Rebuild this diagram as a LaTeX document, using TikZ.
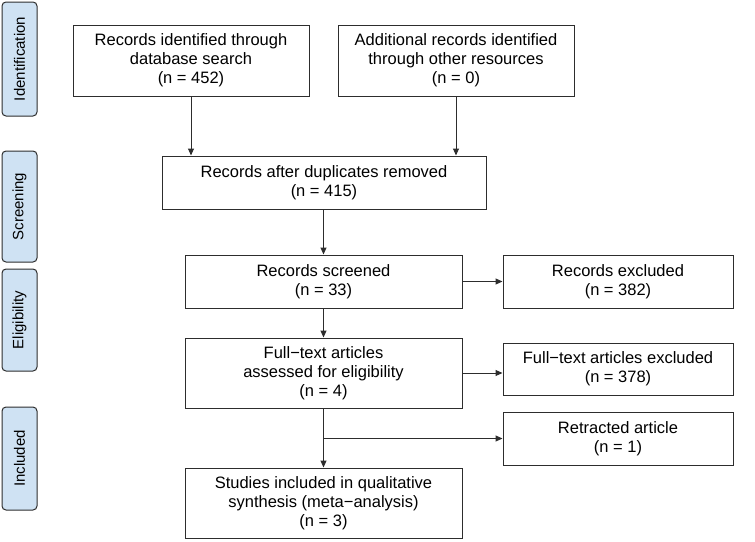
\documentclass[tikz,border=0pt]{standalone}
\usepackage{fontspec}
\setmainfont{Liberation Sans}
\usetikzlibrary{arrows.meta}

\definecolor{boxline}{RGB}{45,45,45}
\definecolor{phasefill}{RGB}{207,226,243}

\tikzset{
  box/.style={draw=boxline, line width=1pt, align=center, inner sep=0pt,
    font=\fontsize{16.5}{19}\selectfont},
  phase/.style={draw=boxline, line width=1pt, fill=phasefill, rounded corners=4pt,
    rotate=90, minimum height=35pt, inner sep=0pt, font=\fontsize{15}{18}\selectfont},
  arr/.style={-{Triangle[length=7pt,width=6pt]}, line width=1pt, draw=boxline}
}

\begin{document}
\begin{tikzpicture}[x=1pt,y=-1pt]
  \useasboundingbox (0,0) rectangle (755,541);

  % phases on the left
  \node[phase, minimum width=114pt] (ident) at (19.5,59) {Identification};
  \node[phase, minimum width=111pt] (screen) at (19.5,206.5) {Screening};
  \node[phase, minimum width=102pt] (elig) at (19.5,320) {Eligibility};
  \node[phase, minimum width=103pt] (incl) at (19.5,458.5) {Included};

  % main boxes
  \node[box, minimum width=236pt, minimum height=71pt] (dbsearch) at (191,60.5)
    {Records identified through\\database search\\(n = 452)};
  \node[box, minimum width=236pt, minimum height=71pt] (other) at (456,60.5)
    {Additional records identified\\through other resources\\(n = 0)};
  \node[box, minimum width=324pt, minimum height=53pt] (dedup) at (324,182.5)
    {Records after duplicates removed\\(n = 415)};
  \node[box, minimum width=277pt, minimum height=53pt] (screened) at (323.5,281.5)
    {Records screened\\(n = 33)};
  \node[box, minimum width=230pt, minimum height=53pt] (excl) at (618,281.5)
    {Records excluded\\(n = 382)};
  \node[box, minimum width=277pt, minimum height=70pt] (fulltext) at (323.5,373)
    {Full−text articles\\assessed for eligibility\\(n = 4)};
  \node[box, minimum width=230pt, minimum height=52pt] (ftexcl) at (618,369)
    {Full−text articles excluded\\(n = 378)};
  \node[box, minimum width=230pt, minimum height=53pt] (retract) at (618,438.5)
    {Retracted article\\(n = 1)};
  \node[box, minimum width=277pt, minimum height=70pt] (studies) at (323.5,503)
    {Studies included in qualitative\\synthesis (meta−analysis)\\(n = 3)};

  % connectors
  \draw[arr] (dbsearch.south) -- (dbsearch.south |- dedup.north);
  \draw[arr] (other.south) -- (other.south |- dedup.north);
  \draw[arr] (dedup.south -| screened.north) -- (screened.north);
  \draw[arr] (screened.east) -- (screened.east -| excl.west);
  \draw[arr] (screened.south) -- (fulltext.north);
  \draw[arr] (fulltext.east) -- (fulltext.east -| ftexcl.west);
  \draw[arr] (fulltext.south) -- (studies.north);
  \coordinate (branch) at (fulltext.south |- retract.west);
  \draw[arr] (branch) -- (retract.west);
\end{tikzpicture}
\end{document}
